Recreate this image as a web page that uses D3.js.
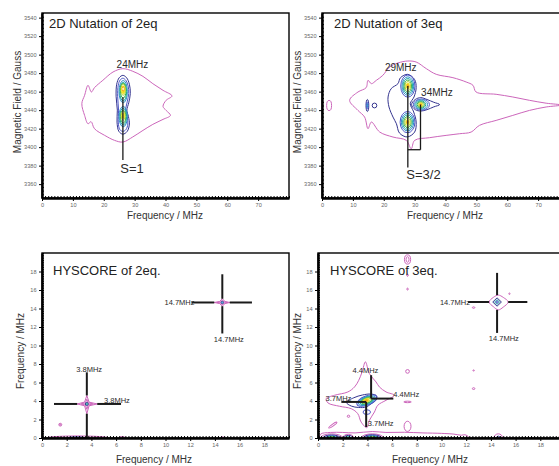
<!DOCTYPE html>
<html>
<head>
<meta charset="utf-8">
<script src="https://cdn.jsdelivr.net/npm/d3@7"></script>
<style>
  body { margin: 0; background: #fff; }
  svg { display: block; font-family: Arial, "Liberation Sans", sans-serif; }
</style>
</head>
<body>
<svg id="fig" width="559" height="466"></svg>
<script>
// tick values
const nutXTicks = [0, 10, 20, 30, 40, 50, 60, 70];
const nutYTicks = [3360, 3380, 3400, 3420, 3440, 3460, 3480, 3500, 3520, 3540];
const hysTicks = [0, 2, 4, 6, 8, 10, 12, 14, 16, 18];

// contour level colours, outermost -> innermost
const levelColors = ['#cc66bb', '#34348f', '#4a55c8', '#2f8fc8', '#1fa7a0', '#3fb34a', '#b5d335', '#f2e22a', '#f5a623', '#fff4c8'];

// ---- 2D nutation, 2eq  (x = MHz, y = Gauss)
const nut2Outline = [[26.2,3484.8],[29.4,3482],[32.7,3476.5],[35.9,3468.6],[39.2,3461.4],[42.1,3455.3],[40.2,3450.6],[39.2,3444],[40.2,3439.7],[41.6,3434.3],[39.2,3430],[35.9,3424.6],[32.7,3418.1],[29.4,3411],[26.2,3405.5],[23.5,3407.3],[20.3,3412.7],[17.0,3419.9],[15.9,3427.5],[14.9,3425.3],[13.8,3434.3],[12.9,3447],[13.8,3456],[14.9,3466.8],[16.0,3459.6],[17.0,3464.3],[19.7,3472.2],[23.0,3481.2]];
const nut2Navy = [[26.2,3477.6],[27.4,3475],[28.3,3468],[28.6,3458],[28.1,3448],[27.5,3440],[28.0,3433],[28.3,3425],[27.6,3417],[26.2,3414],[24.9,3417],[24.3,3427],[24.4,3440],[24.0,3455],[24.2,3468],[25.0,3475]];
const nut2Blue = [[26.2,3474.5],[27.2,3472],[27.9,3466],[28.1,3458],[27.6,3449],[27.1,3440],[27.6,3433],[27.8,3425],[27.2,3419],[26.2,3417],[25.2,3419],[24.7,3427],[24.8,3440],[24.5,3455],[24.7,3467],[25.3,3472.5]];
// [x, y, rx, ry, level]
const nut2Blobs = [
  [26.3,3460,1.35,12,3],[26.3,3460,1.1,10,4],[26.3,3461,0.9,8,5],[26.3,3462,0.7,6,6],[26.3,3462,0.5,4.2,7],[26.3,3463,0.3,2.5,8],[26.3,3463,0.15,1.2,9],
  [26.3,3433,1.35,11,3],[26.3,3433,1.1,9,4],[26.3,3433,0.85,7,5],[26.3,3434,0.6,5,6],[26.3,3434,0.4,3,7]
];
const nut2Lines = [[26.2,3454,26.2,3386]];
const nut2Labels = [['24MHz',29.3,3485.5,'middle','mid'],['S=1',25.35,3372,'start','big']];

// ---- 2D nutation, 3eq
const nut3Outline = [[27.8,3493.1],[30.5,3492],[33.8,3484.8],[37,3478.7],[42.4,3475.1],[46.7,3470.4],[48.9,3466.8],[49.9,3459.6],[56.4,3457.1],[61.8,3454.2],[67.2,3450.6],[72.6,3447.5],[77.5,3445.5],[72.6,3443.4],[67.2,3439.7],[61.8,3434.3],[56.4,3428.9],[51,3423.5],[48.3,3416.3],[44.6,3414.5],[40.2,3412.7],[34.8,3410.2],[30,3407.3],[28.9,3398.3],[27.3,3407.3],[23,3410.9],[18.7,3416.3],[16,3427.1],[14.9,3419.9],[13.8,3432.5],[11.65,3439.7],[8.95,3450.6],[11.65,3459.6],[14.3,3464.3],[14.9,3472.2],[16,3468.6],[17.6,3472.2],[19.7,3477.6],[21.9,3486.6],[24.6,3491]];
const nut3Navy = [[27.8,3478.7],[30.0,3473],[30.5,3464.3],[29.8,3454.2],[28.6,3447],[29.7,3438],[30.5,3427.1],[30.0,3416.3],[27.6,3411],[25.1,3415.2],[24.1,3425.3],[23.0,3432.5],[21.7,3443.4],[21.4,3454.2],[22.4,3463.2],[24.6,3468.6],[25.4,3475]];
const nut3Tear = [[29.0,3446],[30.2,3451.5],[32,3453.5],[34,3451.5],[36.2,3448.5],[38.1,3446],[36.2,3443.5],[34,3440.5],[32,3439],[30.2,3440.5]];
const nut3Blobs = [
  [2.3,3445,0.8,5.5,0],
  [14.7,3445,0.45,6.5,1],[14.7,3445,0.25,4,2],[14.7,3445,0.1,2,3],[17.0,3445,0.75,2.6,1],
  [27.8,3466,2.3,12,2],[27.8,3466,1.9,10,3],[27.8,3466,1.55,8.2,4],[27.8,3466,1.2,6.5,5],[27.8,3466,0.85,4.8,6],[27.8,3466,0.5,3.2,7],[27.8,3466,0.25,1.6,8],
  [27.7,3427,2.4,11.5,2],[27.7,3427,2.0,9.5,3],[27.7,3427,1.6,7.8,4],[27.7,3427,1.2,6,5],[27.7,3427,0.85,4.4,6],[27.7,3427,0.5,2.9,7],[27.7,3427,0.25,1.4,8],
  [32.2,3446,2.6,6,2],[32.1,3446,2.1,5,3],[32.0,3446,1.6,4,4],[32.0,3446,1.2,3.1,5],[32.0,3446,0.8,2.2,6],[32.0,3446,0.45,1.4,7],[32.0,3446,0.2,0.7,8]
];
const nut3Lines = [[27.8,3466,27.8,3378],[27.8,3397.2,31.9,3397.2],[31.9,3397.2,31.9,3446]];
const nut3Labels = [['29MHz',25.5,3482,'middle','mid'],['34MHz',32.1,3455,'start','mid'],['S=3/2',27.3,3366,'start','big']];

// ---- HYSCORE, 2eq  (x, y = MHz)
const hys2Stars = [
  [[13.95,14.65],[14.38,14.76],[14.6,15.05],[14.82,14.76],[15.2,14.65],[14.82,14.54],[14.6,14.25],[14.38,14.54]],
  [[14.15,14.65],[14.45,14.72],[14.6,14.9],[14.75,14.72],[15.05,14.65],[14.75,14.58],[14.6,14.4],[14.45,14.58]],
  [[2.85,3.68],[3.45,3.88],[3.63,4.6],[3.81,3.88],[4.47,3.68],[3.81,3.48],[3.63,2.63],[3.45,3.48]],
  [[3.15,3.68],[3.52,3.8],[3.63,4.2],[3.74,3.8],[4.15,3.68],[3.74,3.56],[3.63,3.1],[3.52,3.56]]
];
const hys2Blobs = [
  [14.6,14.65,0.1,0.13,1],[14.6,14.65,0.05,0.07,3],
  [3.63,3.68,0.12,0.16,1],[3.63,3.68,0.06,0.08,4],
  [1.48,1.44,0.12,0.15,0],[1.48,1.44,0.05,0.06,0],
  [2.9,0,2.5,0.22,0],[2.8,0,0.7,0.12,1],[6.5,0,0.25,0.15,0],[14.6,0,0.15,0.12,0]
];
const hys2Lines = [[14.6,17.7,14.6,15.05],[14.6,14.25,14.6,11.3],[12.1,14.65,13.95,14.65],[15.2,14.65,17.0,14.65],
  [3.63,7.1,3.63,4.6],[3.63,2.63,3.63,0],[0.97,3.68,2.85,3.68],[4.47,3.68,6.4,3.68]];
const hys2Labels = [['14.7MHz',12.35,14.65,'end','small'],['14.7MHz',15.13,10.64,'middle','small'],
  ['3.8MHz',3.82,7.4,'middle','small'],['3.8MHz',6.07,4.08,'middle','small']];

// ---- HYSCORE, 3eq
const hys3Envelope = [[3.84,8.23],[4.16,6.96],[4.7,6.06],[4.97,5.52],[5.51,4.98],[6.18,4.62],[5.51,4.08],[4.84,3.54],[4.57,2.81],[4.16,1.91],[3.95,1.12],[3.49,1.73],[3.22,2.63],[2.69,3.17],[1.75,3.43],[0.81,3.79],[0.67,4.26],[1.34,4.62],[2.42,4.98],[2.96,5.52],[3.3,6.24],[3.57,7.14]];
const hys3Cluster = [[2.3,3.85],[2.9,4.35],[3.6,4.65],[4.3,4.75],[4.75,4.55],[4.7,4.1],[4.3,3.7],[3.9,3.35],[3.3,3.3],[2.7,3.45]];
const hys3Peak = [[13.85,14.7],[14.2,15.2],[14.6,15.45],[15.0,15.2],[15.4,14.7],[15.0,14.15],[14.6,13.85],[14.2,14.2]];
const hys3Band = [[0.2,0.4],[1,0.6],[2,0.6],[3,0.55],[4.4,0.7],[5.5,0.6],[7,0.62],[8.5,0.55],[10,0.5],[11,0.42],[11.6,0.3],[11.9,0.35],[12.2,0.1],[12.2,-0.3],[0.2,-0.3]];
const hys3Stars = [
  [[14.15,14.7],[14.5,15.15],[14.85,14.7],[14.5,14.25]],
  [[14.3,14.7],[14.5,14.95],[14.7,14.7],[14.5,14.45]]
];
// [x, y, rx, ry, level, rotation]
const hys3Blobs = [
  [14.5,14.7,0.08,0.12,2,0],
  [7.25,19.3,0.25,0.5,0,0],[7.25,19.3,0.12,0.3,0,0],[7.25,17.6,0.06,0.12,0,0],[7.25,16.1,0.06,0.1,0,0],
  [7.25,7.2,0.15,0.2,0,0],[7.25,3.9,0.3,0.08,0,0],[7.25,1.26,0.28,0.55,0,0],
  [12.6,14.1,0.1,0.08,0,0],[12.6,7.3,0.06,0.06,0,0],[12.6,5.34,0.1,0.1,0,0],[15.5,15.6,0.05,0.08,0,0],
  [2.47,2.35,0.1,0.12,0,0],[1.2,1.4,0.4,0.1,0,-35],
  [3.95,2.8,0.3,0.25,2,0],
  [3.95,4.05,0.85,0.5,2,-22],[3.95,4.05,0.72,0.42,3,-22],[3.95,4.05,0.58,0.34,4,-22],[3.95,4.05,0.45,0.27,5,-22],[3.92,4.05,0.33,0.2,6,-22],[3.9,4.05,0.22,0.14,7,-22],[3.9,4.05,0.1,0.08,8,-22],
  [1.1,0,0.9,0.45,0,0],[1.1,0,0.7,0.33,1,0],[1.1,0,0.55,0.26,2,0],[1.1,0,0.4,0.2,4,0],[1.1,0,0.3,0.14,5,0],[1.1,0,0.15,0.08,7,0],
  [2.45,0,0.45,0.4,0,0],[2.45,0,0.35,0.28,1,0],[2.45,0,0.2,0.15,4,0],
  [4.4,0,0.9,0.45,0,0],[4.4,0,0.75,0.35,1,0],[4.4,0,0.6,0.28,2,0],[4.4,0,0.45,0.2,4,0],[4.4,0,0.3,0.14,5,0],[4.4,0,0.15,0.08,7,0],
  [14.6,0,0.35,0.45,0,0],[14.6,0,0.15,0.2,1,0]
];
const hys3Lines = [[14.5,17.85,14.5,15.45],[14.5,13.85,14.5,11.36],[12.15,14.7,13.85,14.7],[15.4,14.7,16.95,14.7],
  [4.3,6.79,4.3,4.26],[4.3,4.26,6.1,4.26],[1.89,3.9,3.9,3.9],[3.9,3.9,3.9,1.19]];
const hys3Labels = [['14.7MHz',12.3,14.7,'end','small'],['14.7MHz',15.05,10.75,'middle','small'],
  ['4.4MHz',3.84,7.25,'middle','small'],['4.4MHz',6.1,4.7,'start','small'],
  ['3.7MHz',2.7,4.22,'end','small'],['3.7MHz',4.03,1.55,'start','small']];

const fontSizes = { small: 7.5, mid: 10, big: 13 };
const svg = d3.select('#fig');

// draws one panel with axes, contours and annotations
function painel(p) {
  const g = svg.append('g').attr('transform', `translate(${p.left},${p.top})`);
  const x = d3.scaleLinear().domain(p.xDomain).range([0, p.w]);
  const y = d3.scaleLinear().domain(p.yDomain).range([p.h, 0]);

  svg.append('clipPath').attr('id', p.id + 'clip')
    .append('rect').attr('width', p.w).attr('height', p.h);

  const c = g.append('g').attr('clip-path', `url(#${p.id}clip)`);

  const smooth = d3.line().x(d => x(d[0])).y(d => y(d[1])).curve(d3.curveCatmullRomClosed.alpha(0.5));
  const straight = d3.line().x(d => x(d[0])).y(d => y(d[1])).curve(d3.curveLinearClosed);

  (p.polys || []).forEach(pl => {
    c.append('path').attr('d', (pl.linear ? straight : smooth)(pl.pts))
      .attr('fill', 'none').attr('stroke', levelColors[pl.level]).attr('stroke-width', 1);
  });

  // the densest levels read as solid colour in the original, so fill them
  c.selectAll('.blob').data(p.blobs || []).enter().append('ellipse')
    .attr('cx', d => x(d[0])).attr('cy', d => y(d[1]))
    .attr('rx', d => x(d[0] + d[2]) - x(d[0]))
    .attr('ry', d => y(d[1]) - y(d[1] + d[3]))
    .attr('transform', d => d[5] ? `rotate(${d[5]},${x(d[0])},${y(d[1])})` : null)
    .attr('fill', d => d[4] >= 7 ? levelColors[d[4]] : 'none')
    .attr('stroke', d => levelColors[d[4]])
    .attr('stroke-width', 1);

  c.selectAll('.seg').data(p.lines || []).enter().append('line')
    .attr('x1', d => x(d[0])).attr('y1', d => y(d[1]))
    .attr('x2', d => x(d[2])).attr('y2', d => y(d[3]))
    .attr('stroke', '#1a1a1a').attr('stroke-width', p.lineW);

  g.selectAll('.lbl').data(p.labels || []).enter().append('text')
    .attr('x', d => x(d[1])).attr('y', d => y(d[2]))
    .attr('text-anchor', d => d[3])
    .attr('dominant-baseline', d => d[4] === 'small' ? 'central' : 'auto')
    .attr('font-size', d => fontSizes[d[4]] + 'px')
    .attr('fill', '#2a2a2a')
    .text(d => d[0]);

  // frame
  g.append('rect').attr('width', p.w).attr('height', p.h)
    .attr('fill', 'none').attr('stroke', '#000').attr('stroke-width', 1.4);

  // minor ticks (inside)
  g.append('g').attr('transform', `translate(0,${p.h})`)
    .call(d3.axisBottom(x).tickValues(p.xMinor).tickSize(-2).tickSizeOuter(0).tickFormat(''))
    .call(a => a.select('.domain').remove());
  g.append('g')
    .call(d3.axisLeft(y).tickValues(p.yMinor).tickSize(-2).tickSizeOuter(0).tickFormat(''))
    .call(a => a.select('.domain').remove());

  // major ticks + labels
  const fmt = d3.format('d');
  const ax = g.append('g').attr('transform', `translate(0,${p.h})`)
    .call(d3.axisBottom(x).tickValues(p.xTicks).tickFormat(fmt).tickSize(3).tickSizeOuter(0).tickPadding(2.5));
  const ay = g.append('g')
    .call(d3.axisLeft(y).tickValues(p.yTicks).tickFormat(fmt).tickSize(3).tickSizeOuter(0).tickPadding(2.5));
  [ax, ay].forEach(a => {
    a.select('.domain').attr('stroke-width', 2.4);
    a.selectAll('text').attr('font-size', '5.6px').attr('fill', '#666').attr('font-family', 'Arial, "Liberation Sans", sans-serif');
  });
  g.selectAll('.tick line').attr('stroke', '#000');

  // titles
  g.append('text').attr('x', p.titleX).attr('y', p.titleY)
    .attr('font-size', '13px').attr('fill', '#222').text(p.title);
  g.append('text').attr('x', p.xLabelX).attr('y', p.h + p.xLabelDy)
    .attr('text-anchor', 'middle').attr('font-size', '10px').attr('fill', '#333').text(p.xLabel);
  g.append('text')
    .attr('transform', `translate(${p.yLabelDx},${p.yLabelY}) rotate(-90)`)
    .attr('text-anchor', 'middle').attr('dominant-baseline', 'central')
    .attr('font-size', '10px').attr('fill', '#333').text(p.yLabel);
}

const nutBase = {
  w: 247, h: 185, xDomain: [0, 80], yDomain: [3345, 3545],
  xTicks: nutXTicks, yTicks: nutYTicks,
  xMinor: d3.range(0, 81, 1), yMinor: d3.range(3345, 3546, 4),
  xLabel: 'Frequency / MHz', yLabel: 'Magnetic Field / Gauss',
  xLabelX: 123, xLabelDy: 21, yLabelDx: -25, yLabelY: 89, titleY: 15, lineW: 1.3
};
const hysBase = {
  w: 247, h: 185, xDomain: [0, 20], yDomain: [0, 20],
  xTicks: hysTicks, yTicks: hysTicks,
  xMinor: d3.range(0, 20.01, 0.25), yMinor: d3.range(0, 20.01, 0.25),
  xLabel: 'Frequency / MHz', yLabel: 'Frequency / MHz',
  xLabelX: 112, xLabelDy: 25, yLabelY: 98, titleY: 21.5, lineW: 2
};

painel(Object.assign({}, nutBase, {
  id: 'a', left: 42, top: 13, title: '2D Nutation of 2eq', titleX: 7,
  polys: [{ level: 0, pts: nut2Outline }, { level: 1, pts: nut2Navy }, { level: 2, pts: nut2Blue }],
  blobs: nut2Blobs, lines: nut2Lines, labels: nut2Labels
}));
painel(Object.assign({}, nutBase, {
  id: 'b', left: 322, top: 13, title: '2D Nutation of 3eq', titleX: 12,
  polys: [{ level: 0, pts: nut3Outline }, { level: 1, pts: nut3Navy }, { level: 1, pts: nut3Tear }],
  blobs: nut3Blobs, lines: nut3Lines, labels: nut3Labels
}));
painel(Object.assign({}, hysBase, {
  id: 'c', left: 42, top: 253, title: 'HYSCORE of 2eq.', titleX: 11, yLabelDx: -22,
  polys: hys2Stars.map(s => ({ level: 0, pts: s, linear: true })),
  blobs: hys2Blobs, lines: hys2Lines, labels: hys2Labels
}));
painel(Object.assign({}, hysBase, {
  id: 'd', left: 318, top: 253, title: 'HYSCORE of 3eq.', titleX: 12, yLabelDx: -21,
  polys: [{ level: 0, pts: hys3Envelope }, { level: 0, pts: hys3Band }, { level: 0, pts: hys3Peak },
          { level: 1, pts: hys3Cluster }]
    .concat(hys3Stars.map((s, i) => ({ level: i === 0 ? 1 : 4, pts: s, linear: true }))),
  blobs: hys3Blobs, lines: hys3Lines, labels: hys3Labels
}));
</script>
</body>
</html>
